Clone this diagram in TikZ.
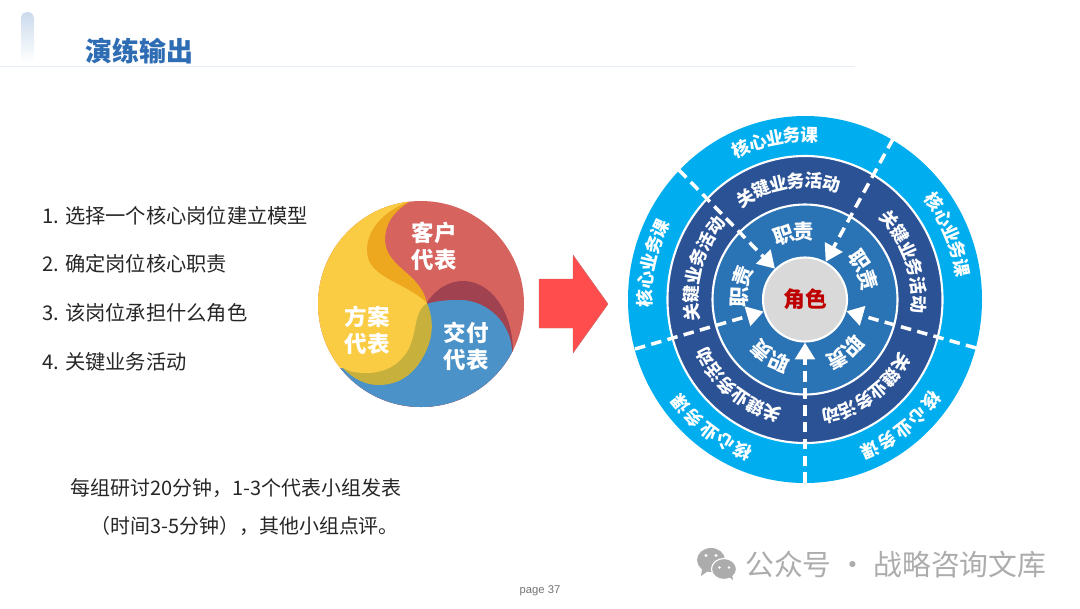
\documentclass[tikz,border=0pt]{standalone}
\usepackage{fontspec}
\usepackage{tikz}
\usetikzlibrary{arrows.meta,positioning,shapes.geometric}
\setmainfont{Noto Sans CJK SC}
\newfontfamily\pagefont{Liberation Sans}
\definecolor{titleblue}{RGB}{46,109,180}
\definecolor{ringout}{RGB}{0,174,239}
\definecolor{ringmid}{RGB}{44,82,150}
\definecolor{ringin}{RGB}{42,115,180}
\definecolor{swirlred}{RGB}{214,99,94}
\definecolor{swirldark}{RGB}{160,66,80}
\definecolor{swirlblue}{RGB}{74,146,200}
\definecolor{swirlyellow}{RGB}{250,204,68}
\definecolor{swirlorange}{RGB}{238,168,32}
\definecolor{swirlolive}{RGB}{200,176,60}
\definecolor{markgray}{RGB}{172,172,172}
\tikzset{
listitem/.style={anchor=west,inner sep=0pt,text=black!85,font=\fontsize{14.4}{17}\selectfont},
noteitem/.style={anchor=west,inner sep=0pt,text=black!85,font=\fontsize{14.2}{17}\selectfont},
swirltext/.style={align=center,inner sep=0pt,text=white,font=\fontsize{16}{19.2}\selectfont\bfseries},
outchar/.style={inner sep=0pt,text=white,font=\fontsize{12.6}{14}\selectfont\bfseries},
midchar/.style={inner sep=0pt,text=white,font=\fontsize{12.6}{14}\selectfont\bfseries},
inchar/.style={inner sep=0pt,text=white,font=\fontsize{14.5}{16}\selectfont\bfseries},
spoke/.style={draw=white,line width=2.5pt,dash pattern=on 7.5pt off 4.5pt,-{Triangle[length=12pt,width=14pt]}},
ringline/.style={draw=white,line width=1.5pt}
}
\begin{document}
\begin{tikzpicture}[x=0.025cm,y=-0.025cm,>=Latex]
\useasboundingbox (0,0) rectangle (1080,608);
\shade[top color=titleblue!25,bottom color=white,rounded corners=4pt] (21,12) rectangle (34,62);
\draw[color=titleblue!12,line width=0.6pt] (0,66.5)--(855,66.5);
\node[anchor=west,inner sep=0pt,text=titleblue,font=\fontsize{19.2}{22}\selectfont\bfseries] (title) at (85,51) {演练输出};
\node[listitem] (item_a) at (42,216) {1. 选择一个核心岗位建立模型};
\node[listitem] (item_b) at (42,264) {2. 确定岗位核心职责};
\node[listitem] (item_c) at (42,313) {3. 该岗位承担什么角色};
\node[listitem] (item_d) at (42,362) {4. 关键业务活动};
\node[noteitem] (note_a) at (70,488) {每组研讨20分钟，1-3个代表小组发表};
\node[noteitem] (note_b) at (90,526) {（时间3-5分钟），其他小组点评。};
\begin{scope}
\clip (421,304) circle [radius=103];
\fill[swirlred] (310,190) rectangle (530,410);
\fill[swirldark] (426,304) .. controls (436,288) and (450,281) .. (463,281) .. controls (490,281) and (512,310) .. (513,350) -- (530,420) -- (300,420) -- (300,368) -- (343,368) -- cycle;
\fill[swirlblue] (426,304) .. controls (440,300) and (450,300) .. (463,300) .. controls (488,302) and (510,322) .. (512,350) -- (530,420) -- (300,420) -- (300,368) -- (343,368) -- cycle;
\fill[swirlolive] (427,303) .. controls (436,325) and (432,345) .. (418,365) .. controls (405,382) and (390,385) .. (378,385) .. controls (365,385) and (352,378) .. (343,368) -- (330,300) -- cycle;
\fill[swirlorange] (412,200) .. controls (392,212) and (385,225) .. (385,240) .. controls (386,268) and (420,272) .. (427,303) -- (380,300) -- (350,240) -- (380,200) -- cycle;
\fill[swirlyellow] (412,200) .. controls (380,212) and (366,232) .. (367,252) .. controls (368,278) and (405,282) .. (427,303) .. controls (414,312) and (418,325) .. (410,346) .. controls (402,364) and (385,373) .. (367,373) .. controls (358,373) and (350,372) .. (343,368) -- (300,368) -- (300,195) -- cycle;
\end{scope}
\node[swirltext] (swirl_a) at (434,246) {客户\\代表};
\node[swirltext] (swirl_b) at (466,346) {交付\\代表};
\node[swirltext] (swirl_c) at (367,330) {方案\\代表};
\fill[red!70!white,draw=red!60!black!60,line width=0.3pt] (539,279)--(573,279)--(573,255)--(608,304)--(573,353)--(573,328)--(539,328)--cycle;
\fill[ringout] (805,299.5) ellipse [x radius=177,y radius=183.5];
\fill[ringmid,ringline] (805,299.5) ellipse [x radius=137.5,y radius=143.5];
\fill[ringin,ringline] (805,299.5) ellipse [x radius=92.5,y radius=95];
\node[circle,draw=white,line width=1.5pt,fill=black!15,minimum size=84*0.025cm,inner sep=0pt,text=red!75!black,font=\fontsize{15.5}{18}\selectfont\bfseries] (role) at (805,299.5) {角色};
\coordinate (spoke_a) at (893,139);
\coordinate (spoke_b) at (679,170);
\coordinate (spoke_c) at (635,349);
\coordinate (spoke_d) at (805,483);
\coordinate (spoke_e) at (976,348);
\foreach \sp in {a,b,c,d,e} {\draw[spoke] (spoke_\sp)--(role);}
\foreach \ang/\stp [count=\s] in {101/6.3,23.6/6.3,167/6.3,233/7,308/7} {
\foreach \ch [count=\i] in {核,心,业,务,课} {
\pgfmathsetmacro\a{\ang-(\i-3)*\stp}
\node[outchar,rotate=\a-90] (out_\s_\i) at ({805+160*cos(\a)},{299.5-165*sin(\a)}) {\ch};
}}
\foreach \ang [count=\s] in {99,20,164,231,305.6} {
\foreach \ch [count=\i] in {关,键,业,务,活,动} {
\pgfmathsetmacro\a{\ang-(\i-3.5)*8.9}
\node[midchar,rotate=\a-90] (mid_\s_\i) at ({805+114*cos(\a)},{299.5-119*sin(\a)}) {\ch};
}}
\foreach \ang [count=\s] in {100,26,169,238,308} {
\foreach \ch [count=\i] in {职,责} {
\pgfmathsetmacro\a{\ang-(\i-1.5)*18}
\node[inchar,rotate=\a-90] (in_\s_\i) at ({805+66*cos(\a)},{299.5-68*sin(\a)}) {\ch};
}}
\node[inner sep=0pt,text=black!55,font=\pagefont\fontsize{8}{10}\selectfont] (page_no) at (540,591) {page 37};
\fill[markgray] (711,560) ellipse [x radius=14,y radius=12];
\fill[markgray] (702,569)--(701,576)--(708,571)--cycle;
\fill[markgray,draw=white,line width=0.8pt] (724,569) ellipse [x radius=12.5,y radius=10.5];
\fill[markgray] (729,577)--(733,580)--(732,574)--cycle;
\fill[white] (706,555.5) circle [radius=1.7] (716,555.5) circle [radius=1.7] (719.5,567.5) circle [radius=1.4] (729,567.5) circle [radius=1.4];
\node[anchor=west,inner sep=0pt,text=markgray,font=\fontsize{20.5}{24}\selectfont] (mark_text) at (745,565) {公众号 · 战略咨询文库};
\end{tikzpicture}
\end{document}
